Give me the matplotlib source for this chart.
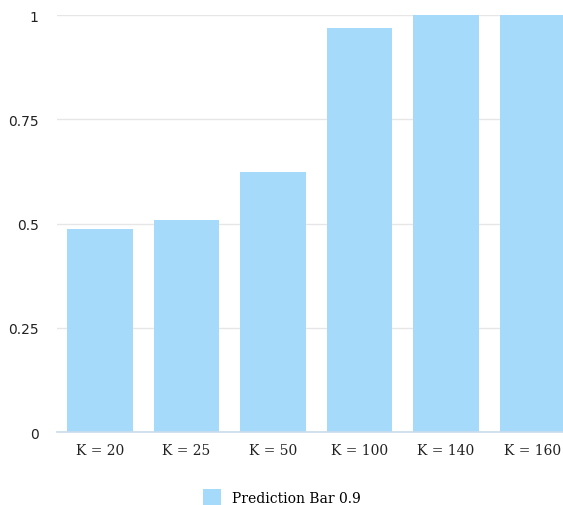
import numpy as np
import matplotlib.pyplot as plt
from matplotlib.patches import Patch

categories = ["K = 20", "K = 25", "K = 50", "K = 100", "K = 140", "K = 160"]
values = [0.487, 0.508, 0.624, 0.969, 1.0, 1.0]
y_ticks = [0, 0.25, 0.5, 0.75, 1]
y_tick_labels = ["0", "0.25", "0.5", "0.75", "1"]
series_name = "Prediction Bar 0.9"

bar_color = "#a6dafb"

fig = plt.figure(figsize=(5.63, 5.06), dpi=100)
ax = fig.add_axes([0.101, 0.144, 0.9, 0.824])

x = np.arange(len(categories))
ax.bar(x, values, width=0.76, color=bar_color, zorder=2)

# the original is cut off at the right edge
ax.set_xlim(-0.5, 5.36)
ax.set_ylim(0, 1)

ax.set_yticks(y_ticks)
ax.set_yticklabels(y_tick_labels, fontsize=10, color="#222222")
ax.set_xticks(x)
ax.set_xticklabels(categories, fontsize=10, family="DejaVu Serif", color="#222222")
ax.tick_params(axis="both", length=0)
ax.tick_params(axis="y", pad=13)
ax.tick_params(axis="x", pad=8)

ax.yaxis.grid(True, color="#e6e6e6", linewidth=1, zorder=0)
ax.set_axisbelow(True)
for side in ("top", "right", "left"):
    ax.spines[side].set_visible(False)
ax.spines["bottom"].set_color("#c9dcea")
ax.spines["bottom"].set_linewidth(1.2)

handle = Patch(facecolor=bar_color, edgecolor="none")
fig.legend([handle], [series_name], loc="center", bbox_to_anchor=(0.5, 0.015),
           frameon=False, prop={"family": "DejaVu Serif", "size": 10},
           handlelength=1.3, handleheight=1.5, handletextpad=0.8)

fig.savefig("out.png", dpi=100)
